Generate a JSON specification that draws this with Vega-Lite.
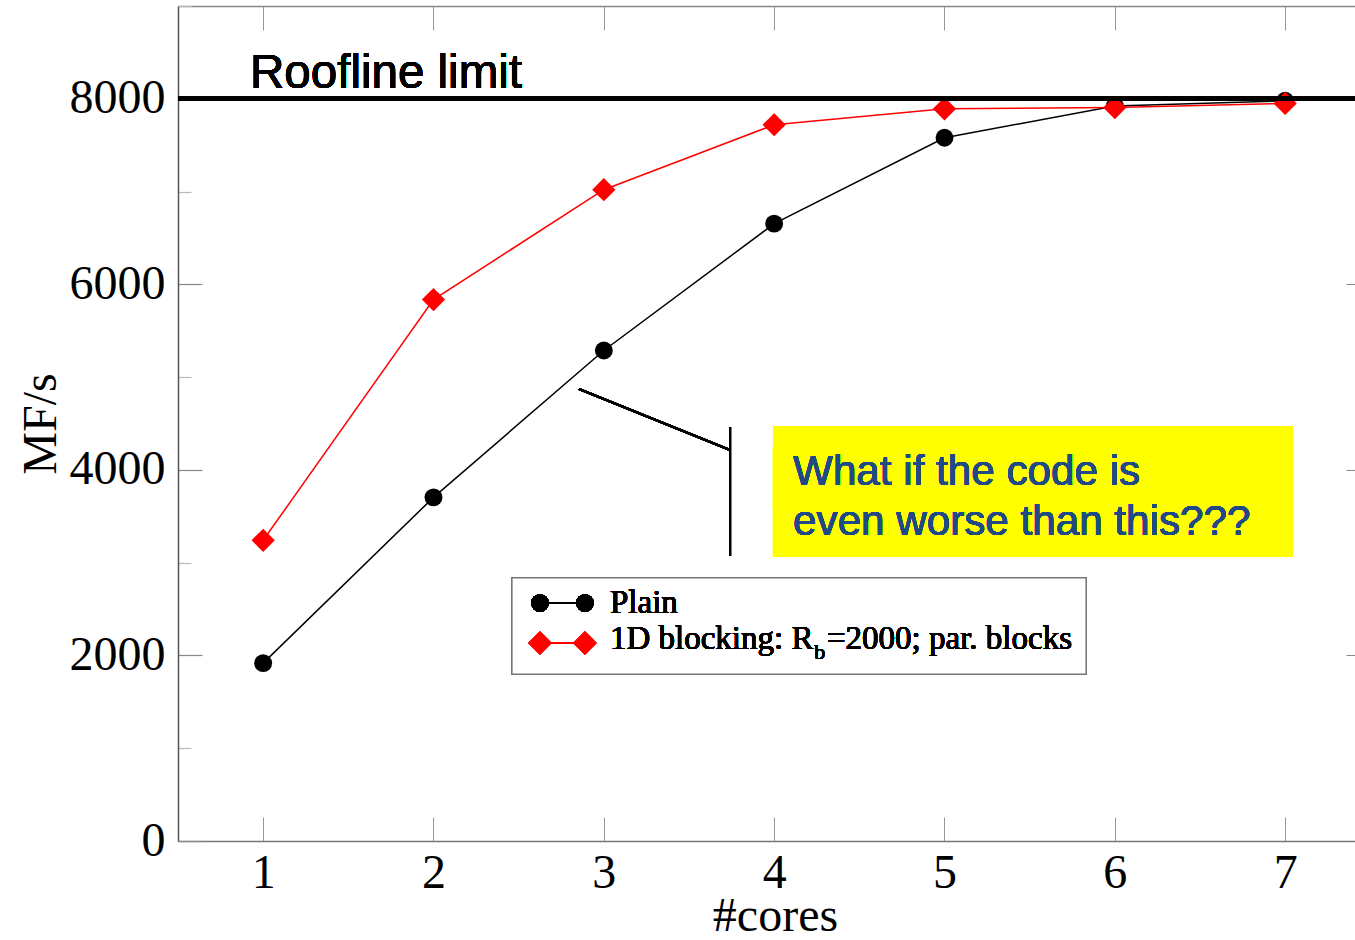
{
  "$schema": "https://vega.github.io/schema/vega-lite/v6.json",
  "autosize": "none",
  "width": 1177,
  "height": 835,
  "padding": {"left": 178, "top": 6, "right": 0, "bottom": 99},
  "background": "white",
  "config": {"view": {"stroke": null}},
  "datasets": {
    "perf": [
      {"cores": 1, "mfs": 1917, "series": "Plain"},
      {"cores": 2, "mfs": 3704, "series": "Plain"},
      {"cores": 3, "mfs": 5287, "series": "Plain"},
      {"cores": 4, "mfs": 6654, "series": "Plain"},
      {"cores": 5, "mfs": 7580, "series": "Plain"},
      {"cores": 6, "mfs": 7922, "series": "Plain"},
      {"cores": 7, "mfs": 7978, "series": "Plain"},
      {"cores": 1, "mfs": 3241, "series": "1D blocking"},
      {"cores": 2, "mfs": 5836, "series": "1D blocking"},
      {"cores": 3, "mfs": 7020, "series": "1D blocking"},
      {"cores": 4, "mfs": 7720, "series": "1D blocking"},
      {"cores": 5, "mfs": 7892, "series": "1D blocking"},
      {"cores": 6, "mfs": 7905, "series": "1D blocking"},
      {"cores": 7, "mfs": 7950, "series": "1D blocking"}
    ]
  },
  "data": {"name": "perf"},
  "resolve": {"axis": {"x": "independent", "y": "independent"}},
  "layer": [
    {
      "mark": {"type": "line", "strokeWidth": 1.5},
      "encoding": {
        "x": {"field": "cores", "type": "quantitative",
          "scale": {"domain": [0.5, 7.41], "nice": false, "zero": false},
          "axis": {"orient": "bottom", "values": [1, 2, 3, 4, 5, 6, 7], "format": "d", "grid": false,
            "tickSize": -24, "tickColor": "#999999", "tickWidth": 1,
            "domainColor": "#777777", "domainWidth": 1.5,
            "labelFont": "Liberation Serif", "labelFontSize": 48, "labelColor": "black", "labelPadding": 32,
            "title": "#cores", "titleFont": "Liberation Serif", "titleFontSize": 48, "titleFontWeight": "normal", "titleColor": "black", "titlePadding": -5, "titleX": 597}},
        "y": {"field": "mfs", "type": "quantitative",
          "scale": {"domain": [0, 9000], "nice": false, "zero": false},
          "axis": {"orient": "left", "values": [0, 1000, 2000, 3000, 4000, 5000, 6000, 7000, 8000, 9000], "format": "d", "grid": false,
            "labelExpr": "datum.value % 2000 === 0 ? datum.label : ''",
            "tickSize": {"condition": {"test": "datum.value % 2000 === 0", "value": -24}, "value": -13},
            "tickColor": {"condition": {"test": "datum.value % 2000 === 0", "value": "#888888"}, "value": "#bbbbbb"},
            "tickWidth": 1.2,
            "domainColor": "#555555", "domainWidth": 1.5,
            "labelFont": "Liberation Serif", "labelFontSize": 48, "labelColor": "black", "labelPadding": 37,
            "title": "MF/s", "titleFont": "Liberation Serif", "titleFontSize": 48, "titleFontWeight": "normal", "titleColor": "black", "titlePadding": 4}},
        "color": {"field": "series", "type": "nominal", "sort": ["Plain", "1D blocking"],
          "scale": {"domain": ["Plain", "1D blocking"], "range": ["#000000", "#ff0000"]}, "legend": null}
      }
    },
    {
      "mark": {"type": "point", "filled": true, "opacity": 1},
      "encoding": {
        "x": {"field": "cores", "type": "quantitative", "scale": {"domain": [0.5, 7.41], "nice": false, "zero": false},
          "axis": {"orient": "top", "values": [1, 2, 3, 4, 5, 6, 7], "labels": false, "title": null, "grid": false,
            "tickSize": -24, "tickColor": "#999999", "domainColor": "#888888", "domainWidth": 1.5}},
        "y": {"field": "mfs", "type": "quantitative", "scale": {"domain": [0, 9000], "nice": false, "zero": false},
          "axis": {"orient": "right", "values": [2000, 4000, 6000, 8000], "labels": false, "title": null, "grid": false,
            "tickSize": -9, "tickColor": "#888888", "domain": false}},
        "color": {"field": "series", "type": "nominal", "scale": {"domain": ["Plain", "1D blocking"], "range": ["#000000", "#ff0000"]}, "legend": null},
        "shape": {"field": "series", "type": "nominal", "scale": {"domain": ["Plain", "1D blocking"], "range": ["circle", "diamond"]}, "legend": null},
        "size": {"field": "series", "type": "nominal", "scale": {"domain": ["Plain", "1D blocking"], "range": [320, 540]}, "legend": null}
      }
    },
    {
      "mark": {"type": "rule", "color": "black", "strokeWidth": 4},
      "encoding": {"y": {"datum": 8000, "type": "quantitative", "scale": {"domain": [0, 9000], "nice": false, "zero": false}, "axis": null}}
    },
    {
      "mark": {"type": "text", "text": "Roofline limit", "font": "Liberation Sans", "fontSize": 47.5, "align": "left", "baseline": "alphabetic", "color": "black"},
      "encoding": {
        "x": {"datum": 0.923, "type": "quantitative", "scale": {"domain": [0.5, 7.41], "nice": false, "zero": false}, "axis": null},
        "y": {"datum": 8116, "type": "quantitative", "scale": {"domain": [0, 9000], "nice": false, "zero": false}, "axis": null}
      }
    },
    {
      "mark": {"type": "rule", "color": "black", "strokeWidth": 2},
      "encoding": {
        "x": {"datum": 2.854, "type": "quantitative", "scale": {"domain": [0.5, 7.41], "nice": false, "zero": false}, "axis": null},
        "x2": {"datum": 3.741},
        "y": {"datum": 4872, "type": "quantitative", "scale": {"domain": [0, 9000], "nice": false, "zero": false}, "axis": null},
        "y2": {"datum": 4214}
      }
    },
    {
      "mark": {"type": "rule", "color": "black", "strokeWidth": 2},
      "encoding": {
        "x": {"datum": 3.741, "type": "quantitative", "scale": {"domain": [0.5, 7.41], "nice": false, "zero": false}, "axis": null},
        "y": {"datum": 4462, "type": "quantitative", "scale": {"domain": [0, 9000], "nice": false, "zero": false}, "axis": null},
        "y2": {"datum": 3072}
      }
    },
    {
      "mark": {"type": "rect", "color": "#ffff00", "opacity": 1},
      "encoding": {
        "x": {"datum": 3.993, "type": "quantitative", "scale": {"domain": [0.5, 7.41], "nice": false, "zero": false}, "axis": null},
        "x2": {"datum": 7.046},
        "y": {"datum": 4473, "type": "quantitative", "scale": {"domain": [0, 9000], "nice": false, "zero": false}, "axis": null},
        "y2": {"datum": 3061}
      }
    },
    {
      "mark": {"type": "text", "text": ["What if the code is", "even worse than this???"], "lineHeight": 50, "font": "Liberation Sans", "fontSize": 42.2, "align": "left", "baseline": "alphabetic", "color": "#1f4a86"},
      "encoding": {
        "x": {"datum": 4.111, "type": "quantitative", "scale": {"domain": [0.5, 7.41], "nice": false, "zero": false}, "axis": null},
        "y": {"datum": 3837, "type": "quantitative", "scale": {"domain": [0, 9000], "nice": false, "zero": false}, "axis": null}
      }
    },
    {
      "mark": {"type": "rect", "fill": "white", "stroke": "#777777", "strokeWidth": 1.2, "opacity": 1},
      "encoding": {
        "x": {"datum": 2.461, "type": "quantitative", "scale": {"domain": [0.5, 7.41], "nice": false, "zero": false}, "axis": null},
        "x2": {"datum": 5.831},
        "y": {"datum": 2835, "type": "quantitative", "scale": {"domain": [0, 9000], "nice": false, "zero": false}, "axis": null},
        "y2": {"datum": 1800}
      }
    },
    {
      "mark": {"type": "rule", "color": "black", "strokeWidth": 1.5},
      "encoding": {
        "x": {"datum": 2.625, "type": "quantitative", "scale": {"domain": [0.5, 7.41], "nice": false, "zero": false}, "axis": null},
        "x2": {"datum": 2.889},
        "y": {"datum": 2565, "type": "quantitative", "scale": {"domain": [0, 9000], "nice": false, "zero": false}, "axis": null}
      }
    },
    {
      "mark": {"type": "point", "shape": "circle", "filled": true, "color": "black", "size": 310, "opacity": 1},
      "encoding": {
        "x": {"datum": 2.625, "type": "quantitative", "scale": {"domain": [0.5, 7.41], "nice": false, "zero": false}, "axis": null},
        "y": {"datum": 2565, "type": "quantitative", "scale": {"domain": [0, 9000], "nice": false, "zero": false}, "axis": null}
      }
    },
    {
      "mark": {"type": "point", "shape": "circle", "filled": true, "color": "black", "size": 310, "opacity": 1},
      "encoding": {
        "x": {"datum": 2.889, "type": "quantitative", "scale": {"domain": [0.5, 7.41], "nice": false, "zero": false}, "axis": null},
        "y": {"datum": 2565, "type": "quantitative", "scale": {"domain": [0, 9000], "nice": false, "zero": false}, "axis": null}
      }
    },
    {
      "mark": {"type": "rule", "color": "#ff0000", "strokeWidth": 1.5},
      "encoding": {
        "x": {"datum": 2.625, "type": "quantitative", "scale": {"domain": [0.5, 7.41], "nice": false, "zero": false}, "axis": null},
        "x2": {"datum": 2.889},
        "y": {"datum": 2134, "type": "quantitative", "scale": {"domain": [0, 9000], "nice": false, "zero": false}, "axis": null}
      }
    },
    {
      "mark": {"type": "point", "shape": "diamond", "filled": true, "color": "#ff0000", "size": 530, "opacity": 1},
      "encoding": {
        "x": {"datum": 2.625, "type": "quantitative", "scale": {"domain": [0.5, 7.41], "nice": false, "zero": false}, "axis": null},
        "y": {"datum": 2134, "type": "quantitative", "scale": {"domain": [0, 9000], "nice": false, "zero": false}, "axis": null}
      }
    },
    {
      "mark": {"type": "point", "shape": "diamond", "filled": true, "color": "#ff0000", "size": 530, "opacity": 1},
      "encoding": {
        "x": {"datum": 2.889, "type": "quantitative", "scale": {"domain": [0.5, 7.41], "nice": false, "zero": false}, "axis": null},
        "y": {"datum": 2134, "type": "quantitative", "scale": {"domain": [0, 9000], "nice": false, "zero": false}, "axis": null}
      }
    },
    {
      "mark": {"type": "text", "text": "Plain", "font": "Liberation Serif", "fontSize": 33, "align": "left", "baseline": "alphabetic", "color": "black"},
      "encoding": {
        "x": {"datum": 3.036, "type": "quantitative", "scale": {"domain": [0.5, 7.41], "nice": false, "zero": false}, "axis": null},
        "y": {"datum": 2457, "type": "quantitative", "scale": {"domain": [0, 9000], "nice": false, "zero": false}, "axis": null}
      }
    },
    {
      "mark": {"type": "text", "text": "1D blocking: R", "font": "Liberation Serif", "fontSize": 33, "align": "left", "baseline": "alphabetic", "color": "black"},
      "encoding": {
        "x": {"datum": 3.036, "type": "quantitative", "scale": {"domain": [0.5, 7.41], "nice": false, "zero": false}, "axis": null},
        "y": {"datum": 2069, "type": "quantitative", "scale": {"domain": [0, 9000], "nice": false, "zero": false}, "axis": null}
      }
    },
    {
      "mark": {"type": "text", "text": "b", "font": "Liberation Serif", "fontSize": 22, "align": "left", "baseline": "alphabetic", "color": "black"},
      "encoding": {
        "x": {"datum": 4.236, "type": "quantitative", "scale": {"domain": [0.5, 7.41], "nice": false, "zero": false}, "axis": null},
        "y": {"datum": 1962, "type": "quantitative", "scale": {"domain": [0, 9000], "nice": false, "zero": false}, "axis": null}
      }
    },
    {
      "mark": {"type": "text", "text": "=2000; par. blocks", "font": "Liberation Serif", "fontSize": 33, "align": "left", "baseline": "alphabetic", "color": "black"},
      "encoding": {
        "x": {"datum": 4.31, "type": "quantitative", "scale": {"domain": [0.5, 7.41], "nice": false, "zero": false}, "axis": null},
        "y": {"datum": 2069, "type": "quantitative", "scale": {"domain": [0, 9000], "nice": false, "zero": false}, "axis": null}
      }
    }
  ]
}
